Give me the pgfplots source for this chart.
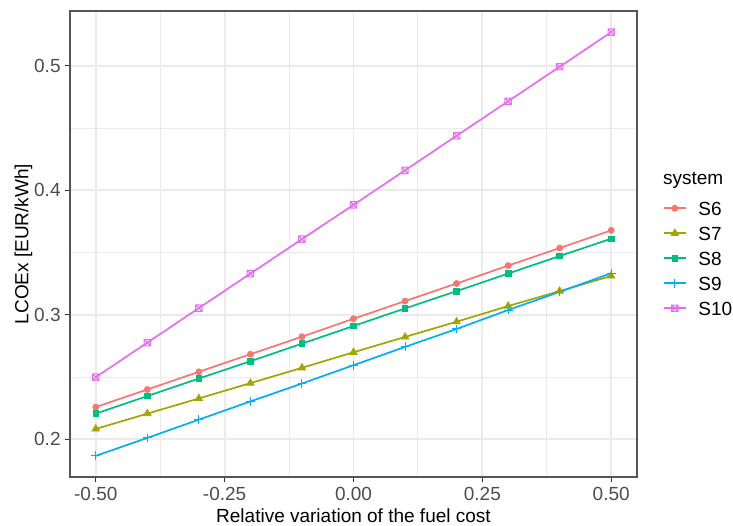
\documentclass[border=0pt]{standalone}
\usepackage{fontspec}
\setmainfont{Liberation Sans}
\usepackage{pgfplots}
\usepackage{pgfplotstable}
\pgfplotsset{compat=1.18}

\definecolor{cS6}{HTML}{F8766D}
\definecolor{cS7}{HTML}{A3A500}
\definecolor{cS8}{HTML}{00BF7D}
\definecolor{cS9}{HTML}{00B0F6}
\definecolor{cS10}{HTML}{E76BF3}
\definecolor{grid92}{HTML}{EBEBEB}
\definecolor{gray20}{HTML}{333333}
\definecolor{border}{HTML}{555555}
\definecolor{gray30}{HTML}{4D4D4D}

\pgfdeclareplotmark{boxx}{%
  \pgfpathrectangle{\pgfpoint{-\pgfplotmarksize}{-\pgfplotmarksize}}{\pgfpoint{2\pgfplotmarksize}{2\pgfplotmarksize}}%
  \pgfpathmoveto{\pgfpoint{-\pgfplotmarksize}{-\pgfplotmarksize}}%
  \pgfpathlineto{\pgfpoint{\pgfplotmarksize}{\pgfplotmarksize}}%
  \pgfpathmoveto{\pgfpoint{-\pgfplotmarksize}{\pgfplotmarksize}}%
  \pgfpathlineto{\pgfpoint{\pgfplotmarksize}{-\pgfplotmarksize}}%
  \pgfusepathqstroke}

\pgfplotstableread{
x     S6     S7     S8     S9     S10
-0.5  0.2259 0.2083 0.2206 0.1867 0.2499
-0.4  0.2400 0.2206 0.2347 0.2011 0.2776
-0.3  0.2542 0.2328 0.2488 0.2158 0.3054
-0.2  0.2683 0.2451 0.2627 0.2304 0.3331
-0.1  0.2824 0.2574 0.2768 0.2448 0.3608
0.0   0.2968 0.2699 0.2910 0.2595 0.3883
0.1   0.3110 0.2822 0.3051 0.2742 0.4160
0.2   0.3251 0.2944 0.3190 0.2886 0.4438
0.3   0.3395 0.3070 0.3331 0.3038 0.4715
0.4   0.3536 0.3190 0.3472 0.3184 0.4992
0.5   0.3678 0.3312 0.3611 0.3334 0.5270
}\datatable

\begin{document}
\begin{tikzpicture}[font=\fontsize{9.5}{11.4}\selectfont]
\begin{axis}[
  at={(0,0)}, anchor=south west,
  scale only axis, width=283.5pt, height=233pt,
  xmin=-0.55, xmax=0.55, ymin=0.1697, ymax=0.544,
  clip=false,
  axis line style={border, line width=0.55pt},
  xtick={-0.5,-0.25,0,0.25,0.5},
  xticklabels={-0.50,-0.25,0.00,0.25,0.50},
  ytick={0.2,0.3,0.4,0.5},
  yticklabels={0.2,0.3,0.4,0.5},
  minor xtick={-0.375,-0.125,0.125,0.375},
  minor ytick={0.25,0.35,0.45},
  grid=both,
  major grid style={grid92, line width=0.9pt},
  minor grid style={grid92, line width=0.45pt},
  tick align=outside,
  major tick length=2.5pt,
  minor tick length=0pt,
  tick style={gray20, line width=0.55pt},
  xtick pos=bottom, ytick pos=left,
  xticklabel style={gray30, anchor=base, inner sep=0pt, yshift=-9.35pt},
  yticklabel style={gray30, anchor=east, inner sep=0pt, xshift=-2pt},
  xlabel={Relative variation of the fuel cost},
  ylabel={LCOEx [EUR/kWh]},
  xlabel style={at={(axis description cs:0.5,-0.09764)}, anchor=base, inner sep=0pt},
  ylabel style={at={(axis description cs:-0.07319,0.5)}, anchor=base, inner sep=0pt},
  legend cell align=left,
  legend image code/.code={\draw[mark repeat=2,mark phase=2] plot coordinates {(0pt,0pt) (5.5pt,0pt) (11pt,0pt)};},
  legend style={at={(1.04586,0.5912)}, anchor=north west, draw=none, fill=none,
    inner sep=0pt, outer sep=0pt, row sep=5.7pt, column sep=5.85pt,
    nodes={inner sep=0pt, text height=6.8pt, text depth=0pt}},
  every axis plot/.append style={line width=0.85pt},
]
\addplot[cS6, mark=*, mark size=1.5pt, mark options={line width=0.4pt}] table[x=x,y=S6] {\datatable};
\addlegendentry{S6}
\addplot[cS7, mark=triangle*, mark size=2.1pt, mark options={line width=0.4pt}] table[x=x,y=S7] {\datatable};
\addlegendentry{S7}
\addplot[cS8, mark=square*, mark size=1.4pt, mark options={line width=0.4pt}] table[x=x,y=S8] {\datatable};
\addlegendentry{S8}
\addplot[cS9, mark=+, mark size=2.2pt, mark options={line width=0.5pt}] table[x=x,y=S9] {\datatable};
\addlegendentry{S9}
\addplot[cS10, mark=boxx, mark size=1.6pt, mark options={line width=0.5pt}] table[x=x,y=S10] {\datatable};
\addlegendentry{S10}
\node[anchor=base west, inner sep=0pt] at (rel axis cs:1.04533,0.62661) {system};
\end{axis}
\pgfresetboundingbox
\path[use as bounding box] (-35pt,-24pt) rectangle (331.5pt,238.5pt);
\end{tikzpicture}
\end{document}
